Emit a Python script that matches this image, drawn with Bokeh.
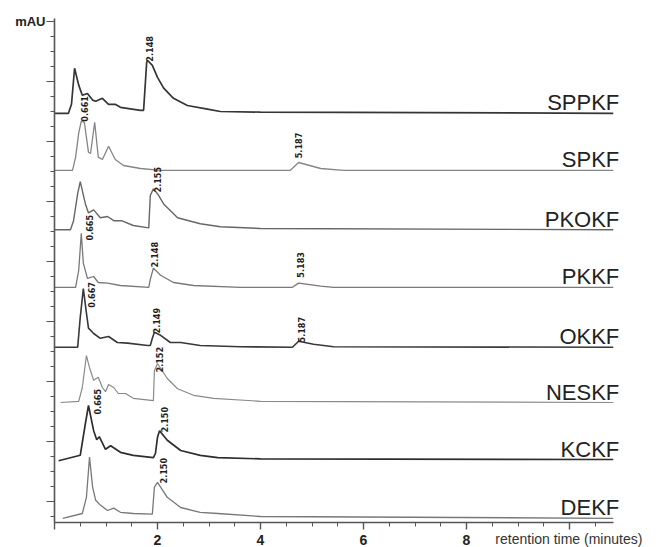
import numpy as np
from bokeh.plotting import figure
from bokeh.models import FixedTicker, ColumnDataSource, Range1d
from bokeh.core.properties import value
from bokeh.embed import file_html
from bokeh.resources import INLINE

# ---------------- data ----------------
samples = ["SPPKF", "SPKF", "PKOKF", "PKKF", "OKKF", "NESKF", "KCKF", "DEKF"]
offsets = [6.47, 5.52, 4.53, 3.57, 2.57, 1.65, 0.70, -0.28]   # stacking offsets (mAU)

sppkf_t = [0.00, 0.27, 0.33, 0.39, 0.47, 0.54, 0.64, 0.74, 0.80, 0.93, 1.05, 1.18, 1.28, 1.67, 1.73,
           1.79, 1.81, 1.90, 2.00, 2.12, 2.31, 2.58, 2.97, 3.22, 4.00, 10.85]
sppkf_h = [0.00, 0.00, 0.15, 0.75, 0.47, 0.30, 0.33, 0.22, 0.20, 0.25, 0.15, 0.15, 0.10, 0.05, 0.05,
           0.85, 0.88, 0.80, 0.60, 0.42, 0.25, 0.13, 0.07, 0.03, 0.02, 0.00]

spkf_t = [0.00, 0.35, 0.41, 0.47, 0.52, 0.58, 0.66, 0.70, 0.78, 0.85, 0.93, 1.05, 1.18, 1.34, 1.67,
          2.06, 4.58, 4.74, 5.17, 5.61, 10.85]
spkf_h = [0.00, 0.00, 0.22, 0.62, 0.82, 0.80, 0.30, 0.28, 0.80, 0.22, 0.18, 0.40, 0.18, 0.08, 0.03,
          0.00, 0.00, 0.13, 0.03, 0.00, 0.00]

pkokf_t = [0.00, 0.31, 0.37, 0.45, 0.50, 0.60, 0.66, 0.76, 0.89, 1.03, 1.15, 1.30, 1.53, 1.83, 1.86,
           1.92, 2.00, 2.12, 2.39, 2.83, 3.22, 4.00, 10.85]
pkokf_h = [0.00, 0.00, 0.15, 0.60, 0.80, 0.43, 0.28, 0.33, 0.20, 0.22, 0.15, 0.15, 0.07, 0.03, 0.57,
           0.68, 0.60, 0.43, 0.20, 0.10, 0.05, 0.02, 0.00]

pkkf_t = [0.00, 0.41, 0.47, 0.52, 0.56, 0.64, 0.76, 0.85, 1.03, 1.28, 1.83, 1.86, 1.92, 2.06, 2.31,
          2.70, 3.61, 4.62, 4.74, 5.17, 5.42, 10.85]
pkkf_h = [0.00, 0.00, 0.28, 0.90, 0.40, 0.15, 0.18, 0.08, 0.07, 0.03, 0.00, 0.13, 0.32, 0.20, 0.08,
          0.03, 0.00, 0.00, 0.07, 0.02, 0.00, 0.00]

okkf_t = [0.00, 0.45, 0.50, 0.56, 0.62, 0.66, 0.76, 0.89, 1.05, 1.22, 1.42, 1.81, 1.86, 1.90, 1.94,
          2.06, 2.25, 2.45, 2.83, 3.61, 4.62, 4.74, 5.03, 5.42, 10.85]
okkf_h = [0.00, 0.00, 0.50, 0.98, 0.57, 0.32, 0.23, 0.15, 0.18, 0.08, 0.07, 0.03, 0.03, 0.15, 0.25,
          0.20, 0.08, 0.08, 0.03, 0.01, 0.00, 0.10, 0.05, 0.01, 0.00]

neskf_t = [0.12, 0.47, 0.54, 0.62, 0.68, 0.76, 0.85, 0.93, 0.99, 1.05, 1.15, 1.24, 1.38, 1.53, 1.92,
           1.94, 2.00, 2.19, 2.39, 2.70, 3.09, 4.00, 10.85]
neskf_h = [0.00, 0.02, 0.25, 0.78, 0.58, 0.37, 0.42, 0.25, 0.18, 0.30, 0.25, 0.15, 0.15, 0.07, 0.03,
           0.53, 0.65, 0.40, 0.23, 0.12, 0.07, 0.02, 0.00]

kckf_t = [0.08, 0.50, 0.60, 0.66, 0.76, 0.82, 0.87, 0.99, 1.09, 1.28, 1.53, 1.92, 1.96, 2.00, 2.04,
          2.19, 2.45, 2.83, 3.17, 4.00, 10.85]
kckf_h = [-0.02, 0.07, 0.60, 0.90, 0.48, 0.33, 0.38, 0.17, 0.23, 0.12, 0.07, 0.03, 0.10, 0.37, 0.48,
          0.32, 0.15, 0.07, 0.03, 0.01, 0.00]

dekf_t = [0.16, 0.54, 0.62, 0.68, 0.74, 0.80, 0.89, 1.03, 1.15, 1.28, 1.53, 1.90, 1.94, 2.00, 2.19,
          2.45, 2.83, 3.17, 4.00, 10.85]
dekf_h = [0.00, 0.08, 0.35, 1.02, 0.52, 0.30, 0.22, 0.13, 0.17, 0.10, 0.08, 0.07, 0.52, 0.60, 0.35,
          0.18, 0.10, 0.08, 0.03, 0.00]

trace_t = [sppkf_t, spkf_t, pkokf_t, pkkf_t, okkf_t, neskf_t, kckf_t, dekf_t]
trace_h = [sppkf_h, spkf_h, pkokf_h, pkkf_h, okkf_h, neskf_h, kckf_h, dekf_h]

# peak retention-time annotations
peak_text = ["2.148", "0.661", "5.187", "2.155", "0.665", "2.148", "5.183", "0.667",
             "2.149", "5.187", "2.152", "0.665", "2.150", "2.150"]
peak_t = [1.84, 0.58, 4.74, 2.00, 0.68, 1.94, 4.78, 0.72, 1.98, 4.80, 2.04, 0.83, 2.14, 2.12]
peak_y = [7.33, 6.33, 5.72, 5.15, 4.35, 3.90, 3.73, 3.23, 2.80, 2.65, 2.15, 1.45, 1.15, 0.30]

x_major = [0, 2, 4, 6, 8, 10]
x_labels = {0: "", 2: "2", 4: "4", 6: "6", 8: "8", 10: ""}
y_major = [0, 1, 2, 3, 4, 5, 6, 7, 8]
x_title = "retention time (minutes)"
y_title = "mAU"

# ---------------- layout / styles ----------------
W, H = 662, 547
t_end = 10.85          # last recorded time
y_low, y_top = -0.35, 8.05
px_per_min, x0_px = 51.5, 54
px_per_mau, y0_px = 60.0, 501

line_colors = ["#353535", "#858585", "#666666", "#787878", "#383838", "#8a8a8a", "#2e2e2e", "#787878"]
line_widths = [1.7, 1.3, 1.4, 1.3, 1.6, 1.2, 1.7, 1.3]

x_range = Range1d(-x0_px / px_per_min, (W - x0_px) / px_per_min)
y_range = Range1d((y0_px - H) / px_per_mau, y0_px / px_per_mau)

p = figure(width=W, height=H, output_backend="svg", toolbar_location=None,
           x_range=x_range, y_range=y_range,
           min_border_left=0, min_border_right=0, min_border_top=0, min_border_bottom=0)
p.outline_line_color = None
p.xgrid.visible = False
p.ygrid.visible = False
p.background_fill_color = "white"
p.border_fill_color = "white"

for t, h, off, c, w in zip(trace_t, trace_h, offsets, line_colors, line_widths):
    y = np.array(h) + off
    p.line(t, y, line_color=c, line_width=w)

src = ColumnDataSource(dict(x=peak_t, y=peak_y, text=peak_text))
p.text(x="x", y="y", text="text", source=src, angle=np.pi / 2,
       text_align="left", text_baseline="middle",
       text_font=value("DejaVu Sans Condensed"), text_font_style="bold",
       text_font_size="9px", text_color="#1e1e1e")

name_src = ColumnDataSource(dict(x=[t_end] * len(samples), y=offsets, text=samples))
p.text(x="x", y="y", text="text", source=name_src, x_offset=6, y_offset=2,
       text_align="right", text_baseline="bottom",
       text_font=value("Liberation Sans"), text_font_size="22px", text_color="#222222")

p.text(x=[8.56], y=[-0.62], text=[x_title], text_align="left", text_baseline="middle",
       text_font=value("Liberation Sans"), text_font_size="14px", text_color="#333333")

# x axis (drawn at a fixed location inside the canvas)
xa = p.xaxis[0]
xa.fixed_location = y_low
xa.bounds = (0, t_end)
xa.ticker = FixedTicker(ticks=x_major, minor_ticks=list(np.arange(0, 10.75, 0.5)))
xa.major_label_overrides = x_labels
xa.axis_line_color = "#555555"
xa.axis_line_width = 1.6
xa.major_tick_line_color = "#555555"
xa.minor_tick_line_color = "#555555"
xa.major_tick_line_width = 1.4
xa.minor_tick_line_width = 1.0
xa.major_tick_in = 0
xa.major_tick_out = 7
xa.minor_tick_in = 0
xa.minor_tick_out = 4
xa.major_label_standoff = 5
xa.major_label_text_font = "Liberation Sans"
xa.major_label_text_font_style = "bold"
xa.major_label_text_font_size = "14px"
xa.major_label_text_color = "#222222"

# y axis
ya = p.yaxis[0]
ya.fixed_location = 0
ya.bounds = (y_low, y_top)
ya.ticker = FixedTicker(ticks=y_major, minor_ticks=list(np.arange(-0.25, 8.01, 0.25)))
ya.major_label_overrides = {**{k: "" for k in y_major[:-1]}, 8: y_title}
ya.axis_line_color = "#555555"
ya.axis_line_width = 1.6
ya.major_tick_line_color = "#555555"
ya.minor_tick_line_color = "#555555"
ya.major_tick_in = 0
ya.major_tick_out = 8
ya.minor_tick_in = 0
ya.minor_tick_out = 4
ya.major_label_standoff = 1
ya.major_label_text_font = "Liberation Sans"
ya.major_label_text_font_style = "bold"
ya.major_label_text_font_size = "13px"
ya.major_label_text_color = "#222222"

open("out.html", "w").write(file_html(p, INLINE))
